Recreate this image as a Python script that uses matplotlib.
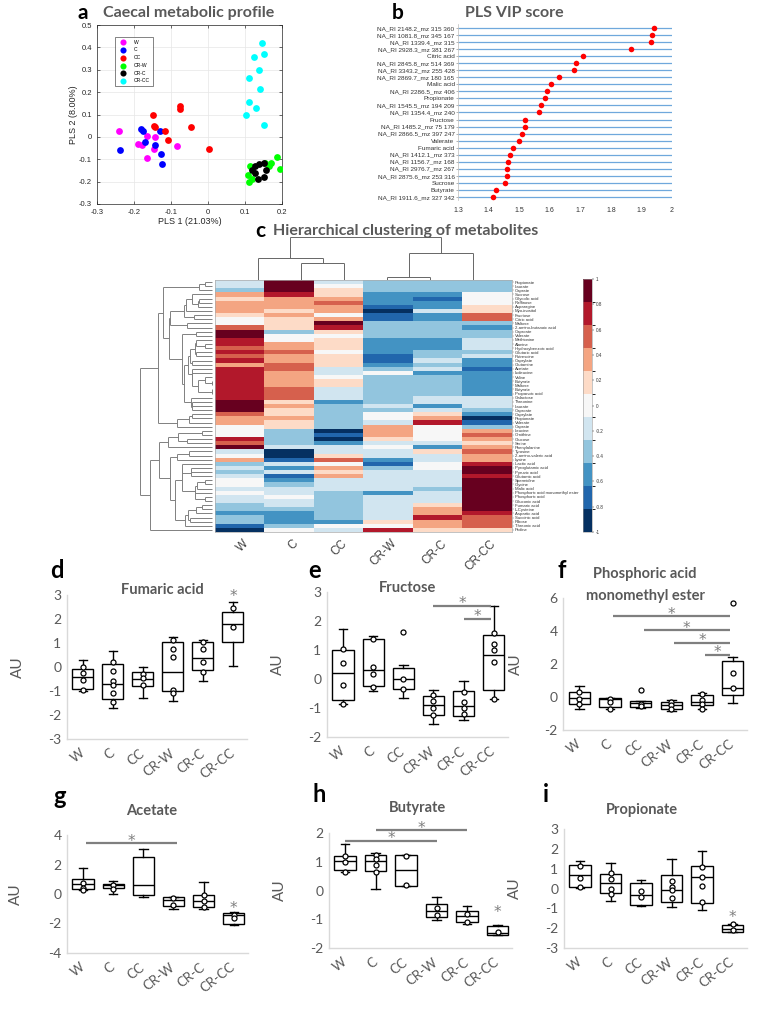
import numpy as np
import matplotlib
matplotlib.use('Agg')
import matplotlib.pyplot as plt
from matplotlib.colors import ListedColormap, BoundaryNorm
from matplotlib.collections import LineCollection
from matplotlib.cm import ScalarMappable
from matplotlib.transforms import ScaledTranslation

plt.rcParams['font.family'] = ['Lato', 'DejaVu Sans']
FW, FH = 770, 1015

# ---------------- data ----------------
groups = ['W', 'C', 'CC', 'CR-W', 'CR-C', 'CR-CC']
group_colors = ['#ff00ff', '#0000ff', '#ff0000', '#00ff00', '#000000', '#00ffff']

# panel a: PLS scores
pls_x = [
    [-0.241, -0.166, -0.143, -0.188, -0.179, -0.166, -0.147, -0.083],
    [-0.239, -0.181, -0.176, -0.170, -0.144, -0.129, -0.127, -0.125],
    [-0.150, -0.147, -0.144, -0.117, -0.108, -0.075, -0.076, -0.047, 0.004],
    [0.186, 0.195, 0.155, 0.170, 0.113, 0.108, 0.118, 0.112, 0.165],
    [0.128, 0.138, 0.150, 0.118, 0.126, 0.150, 0.135, 0.158],
    [0.147, 0.125, 0.150, 0.138, 0.112, 0.140, 0.110, 0.130, 0.102, 0.150],
]
pls_y = [
    [0.025, 0.006, -0.001, -0.030, -0.037, -0.094, -0.055, -0.043],
    [-0.060, 0.033, 0.028, -0.024, -0.036, 0.025, -0.078, -0.119],
    [0.096, 0.050, 0.046, 0.025, -0.014, 0.139, 0.124, 0.045, -0.053],
    [-0.088, -0.144, -0.115, -0.118, -0.128, -0.170, -0.188, -0.200, -0.128],
    [-0.132, -0.122, -0.118, -0.150, -0.160, -0.180, -0.190, -0.150],
    [0.420, 0.355, 0.370, 0.300, 0.265, 0.215, 0.155, 0.130, 0.100, 0.055],
]

# panel b: VIP scores
vip_labels = ['NA_RI 2148.2_mz 315 360', 'NA_RI 1081.8_mz 345 167', 'NA_RI 1339.4_mz 315',
              'NA_RI 2928.3_mz 381 267', 'Citric acid', 'NA_RI 2845.8_mz 514 369',
              'NA_RI 3343.2_mz 255 428', 'NA_RI 2869.7_mz 180 165', 'Malic acid',
              'NA_RI 2286.5_mz 406', 'Propionate', 'NA_RI 1545.5_mz 194 209',
              'NA_RI 1354.4_mz 240', 'Fructose', 'NA_RI 1485.2_mz 75 179',
              'NA_RI 2866.5_mz 397 247', 'Valerate', 'Fumaric acid', 'NA_RI 1412.1_mz 373',
              'NA_RI 1156.7_mz 168', 'NA_RI 2976.7_mz 267', 'NA_RI 2875.6_mz 253 316',
              'Sucrose', 'Butyrate', 'NA_RI 1911.6_mz 327 342']
vip_values = [1.94, 1.935, 1.93, 1.865, 1.71, 1.685, 1.68, 1.63, 1.605, 1.59, 1.585, 1.57,
              1.565, 1.52, 1.52, 1.51, 1.50, 1.48, 1.47, 1.465, 1.46, 1.46, 1.455, 1.425, 1.415]
vip_ticks = [1.3, 1.4, 1.5, 1.6, 1.7, 1.8, 1.9, 2.0]

# panel c: heatmap (colour level -5..5 per metabolite and group)
hm_rows = ['Propionate', 'Laurate', 'Caprate', 'Sucrose', 'Glycolic acid', 'Raffinose',
           'Asparagine', 'Myo-inositol', 'Fructose', 'Citric acid', 'Maltose',
           '2-amino-butanoic acid', 'Caproate', 'Valerate', 'Methionine', 'Alanine',
           'Hydroxybenzoic acid', 'Glutaric acid', 'Putrescine', 'Caprylate', 'Glutamine',
           'Acetate', 'Isoleucine', 'Valine', 'Butyrate', 'Maltose', 'Butyrate',
           'Propanoic acid', 'Galactose', 'Threonine', 'Laurate', 'Caproate', 'Caprylate',
           'Propionate', 'Valerate', 'Caprate', 'Leucine', 'Ornithine', 'Glucose', 'Serine',
           'Phenylalanine', 'Tyrosine', '2-amino-valeric acid', 'Lysine', 'Lactic acid',
           'Pyroglutamic acid', 'Pyruvic acid', 'Glutamic acid', 'Spermidine', 'Glycine',
           'Malic acid', 'Phosphoric acid monomethyl ester', 'Phosphoric acid',
           'Gluconic acid', 'Fumaric acid', 'L-Cysteine', 'Aspartic acid', 'Succinic acid',
           'Ribose', 'Threonic acid', 'Proline']
hm_levels = [
    [-1, 5, -1, -2, -2, -2], [-1, 5, 0, -2, -2, -2], [-2, 5, 1, -2, -2, -2],
    [2, 4, 1, -3, -3, 0], [1, 2, 2, -3, -4, 0], [2, 2, 3, -3, -3, 0],
    [2, 2, 2, -4, -3, 1], [2, 1, 2, -5, -1, 1], [1, 2, 0, -4, -3, 3],
    [0, 1, 2, -4, -3, 3], [0, 1, 5, -2, -2, -2], [3, 1, 4, -2, -2, -3],
    [5, -2, 1, -2, -2, -2], [5, 0, 0, -2, -2, -2], [4, 0, 1, -3, -3, -1],
    [4, 2, 1, -3, -3, -1], [3, 2, 1, -3, -3, -1], [4, 3, 0, -3, -2, -2],
    [3, 2, 1, -4, -2, -1], [4, 2, 1, -4, -1, -3], [2, 3, 1, -3, -2, -3],
    [4, 3, -1, -2, -1, -4], [4, 2, -1, 0, -3, -3], [4, 2, 0, -2, -2, -3],
    [4, 2, 1, -2, -2, -3], [4, 2, 1, -2, -2, -3], [4, 3, -1, -2, -2, -3],
    [4, 3, -1, -2, -2, -3], [4, 3, -1, -2, -1, -1], [5, 1, -3, -2, -1, -1],
    [5, 2, -2, -1, -3, -1], [5, 1, -2, -2, -1, -2], [3, 1, -2, 0, 1, -3],
    [2, 2, -2, 0, 2, -5], [2, 1, -2, -1, 4, -4], [0, 1, -2, 2, 0, -2],
    [0, -2, -5, 2, 0, 2], [0, -2, -4, 2, 0, 3], [4, -2, -5, 1, 0, 2],
    [3, -2, -3, -1, -1, 1], [5, -1, -1, 0, -3, 2], [-1, -5, -1, -1, 1, 3],
    [0, -5, 1, -1, -1, 2], [2, -4, 3, -3, -1, 2], [-2, -1, 0, -4, 0, 4],
    [-1, -3, 2, -2, 0, 5], [-2, -1, 1, -1, -1, 5], [-1, -4, 2, -1, -1, 4],
    [0, -3, -1, -1, -1, 5], [0, -2, -1, -1, -1, 5], [-1, -1, -1, -1, -2, 5],
    [0, -1, -2, -3, -1, 5], [-1, 0, -2, -1, -1, 5], [-1, -1, -2, -1, -1, 5],
    [-2, -1, -2, -1, 1, 5], [-2, -2, -2, -1, 2, 5], [-3, -3, -2, -1, 2, 4],
    [-2, -3, -2, -1, 4, 3], [-2, -3, -3, 1, 2, 3], [-4, -2, 0, 0, 2, 3],
    [-5, 0, -1, 4, 1, 1],
]
# column dendrogram merges: (cluster a, cluster b, height)
col_merges = [(1, 2, 0.395), (3, 4, 0.08), (0, 6, 0.512), (7, 5, 0.628), (8, 9, 1.0)]
hm_colors = ['#053061', '#2166ac', '#4393c3', '#92c5de', '#d1e5f0', '#f7f7f7',
             '#fddbc7', '#f4a582', '#d6604d', '#b2182b', '#67001f']
cbar_ticks = [-1, -0.8, -0.6, -0.4, -0.2, 0, 0.2, 0.4, 0.6, 0.8, 1]

# box panels: (q1, median, q3, whisker low, whisker high)
fum_stats = [(-0.92, -0.42, -0.09, -0.99, 0.28), (-1.34, -0.71, 0.13, -1.71, 0.65),
             (-0.78, -0.49, -0.19, -1.29, 0.0), (-1.02, -0.19, 1.03, -1.43, 1.27),
             (-0.12, 0.37, 1.03, -0.6, 1.13), (1.06, 1.78, 2.31, 0.05, 2.72)]
fum_points = [[0.0, -0.25, -0.53, -0.97], [0.2, -0.15, -0.6, -0.77, -1.1, -1.45],
              [-0.3, -0.45, -0.75], [1.13, 0.75, 0.4, -0.95, -1.1],
              [1.05, 0.75, 0.2, -0.2], [2.45, 1.65]]
fum_out = [[], [], [], [], [], []]

fru_stats = [(-0.71, 0.21, 1.01, -0.87, 1.74), (-0.24, 0.30, 1.39, -0.43, 1.50),
             (-0.33, -0.01, 0.39, -0.66, 0.49), (-1.25, -0.90, -0.60, -1.54, -0.39),
             (-1.28, -0.93, -0.41, -1.43, -0.07), (-0.37, 0.84, 1.53, -0.70, 2.52)]
fru_points = [[1.05, 0.55, -0.2, -0.85], [1.39, 0.41, 0.18, -0.28], [-0.01, -0.35],
              [-0.55, -0.75, -1.0, -1.25], [-0.45, -0.8, -1.0, -1.2],
              [1.6, 1.2, 1.0, 0.6, -0.7]]
fru_out = [[], [], [1.62], [], [], []]

pme_stats = [(-0.43, -0.05, 0.31, -0.73, 0.68), (-0.59, -0.15, -0.05, -0.73, -0.05),
             (-0.59, -0.39, -0.23, -0.69, -0.23), (-0.73, -0.49, -0.29, -0.85, -0.19),
             (-0.49, -0.29, 0.11, -0.73, 0.27), (0.11, 0.56, 2.17, -0.39, 2.43)]
pme_points = [[0.3, -0.1, -0.45], [-0.1, -0.3, -0.7], [-0.4, -0.55], [-0.3, -0.5, -0.7],
              [0.2, -0.2, -0.45, -0.7], [1.46, 0.52]]
pme_out = [[], [], [0.42], [], [], [5.7]]

ace_stats = [(0.35, 0.67, 1.0, 0.28, 1.75), (0.40, 0.58, 0.67, 0.01, 0.91),
             (-0.05, 0.62, 2.49, -0.17, 3.05), (-0.84, -0.44, -0.21, -1.02, -0.17),
             (-0.91, -0.46, -0.05, -1.0, 0.78), (-2.01, -1.45, -1.29, -2.13, -1.25)]
ace_points = [[0.75, 0.4, 0.3], [0.6, 0.35], [], [-0.3, -0.75], [-0.1, -0.5, -0.9],
              [-1.4, -1.65]]
ace_out = [[], [], [], [], [], []]

but_stats = [(0.70, 1.04, 1.21, 0.63, 1.62), (0.67, 1.04, 1.25, 0.05, 1.30),
             (0.17, 0.72, 1.22, 0.17, 1.22), (-0.92, -0.70, -0.47, -1.01, -0.23),
             (-1.11, -0.90, -0.70, -1.15, -0.55), (-1.54, -1.48, -1.22, -1.54, -1.19)]
but_points = [[1.2, 1.0, 0.65], [1.25, 1.1, 0.9, 0.65], [1.2, 0.2], [-0.6, -0.85],
              [-0.8, -1.1], [-1.45]]
but_out = [[], [], [], [], [], []]

pro_stats = [(0.08, 0.70, 1.17, 0.03, 1.37), (-0.23, 0.28, 0.73, -0.65, 1.29),
             (-0.82, -0.34, 0.28, -0.90, 0.41), (-0.68, -0.06, 0.66, -0.93, 1.49),
             (-0.73, 0.58, 1.15, -1.07, 1.91), (-2.19, -2.04, -1.86, -2.19, -1.80)]
pro_points = [[1.15, 0.55, 0.1], [0.8, 0.5, 0.0, -0.3], [-0.15, -0.45],
              [0.4, 0.1, -0.1, -0.5], [1.1, 0.6, 0.15, -0.7], [-1.8, -2.1]]
pro_out = [[], [], [], [], [], []]

# significance bars (from group, to group, height) and single stars (group, height)
fru_bars = [(4, 5.9, 2.52), (5, 5.9, 2.08)]
pme_bars = [(2.1, 5.9, 4.89), (3.1, 5.9, 4.04), (4.1, 5.9, 3.30), (5.1, 5.9, 2.57)]
ace_bars = [(1.1, 4.1, 3.44)]
but_bars = [(1.0, 4.0, 1.73), (2.0, 5.0, 2.09)]
fum_stars = [(6, 2.85)]
ace_stars = [(6, -1.15)]
but_stars = [(6, -0.85)]
pro_stars = [(6, -1.55)]

# ---------------- helpers ----------------
fig = plt.figure(figsize=(FW / 100, FH / 100), dpi=100)


def px(l, t, r, b):
    return [l / FW, 1 - b / FH, (r - l) / FW, (b - t) / FH]


def ftext(x, y, s, **kw):
    fig.text(x / FW, 1 - y / FH, s, **kw)


GREY = '#595959'
SANS = ['Liberation Sans', 'DejaVu Sans']

# ---------------- panel a ----------------
axa = fig.add_axes(px(97, 25, 282, 204))
for k, g in enumerate(groups):
    axa.scatter(pls_x[k], pls_y[k], s=24, color=group_colors[k], label=g, zorder=3,
                linewidths=0)
axa.set_xlim(-0.3, 0.2)
axa.set_ylim(-0.3, 0.5)
axa.set_xticks(np.arange(-0.3, 0.21, 0.1))
axa.set_xticklabels(['-0.3', '-0.2', '-0.1', '0', '0.1', '0.2'])
axa.set_yticks(np.arange(-0.3, 0.51, 0.1))
axa.set_yticklabels(['-0.3', '-0.2', '-0.1', '0', '0.1', '0.2', '0.3', '0.4', '0.5'])
axa.grid(True, color='#e6e6e6', lw=0.5)
axa.set_axisbelow(True)
axa.tick_params(labelsize=5.5, labelcolor='#262626', direction='in', length=2, width=0.4,
                top=True, right=True)
for t in axa.get_xticklabels() + axa.get_yticklabels():
    t.set_family(SANS)
for s in axa.spines.values():
    s.set_color('#262626')
    s.set_linewidth(0.5)
axa.set_xlabel('PLS 1 (21.03%)', fontsize=6.5, family=SANS, color='#262626', labelpad=1)
axa.set_ylabel('PLS 2 (8.00%)', fontsize=6.5, family=SANS, color='#262626', labelpad=1)
leg = axa.legend(loc='upper left', bbox_to_anchor=(0.095, 0.935),
                 prop={'family': SANS, 'size': 3.6}, markerscale=0.9, frameon=True,
                 fancybox=False, edgecolor='#262626', labelspacing=0.55, borderpad=0.6,
                 handletextpad=1.2, borderaxespad=0)
leg.get_frame().set_linewidth(0.5)
ftext(77, 13, 'a', fontsize=15, fontweight='bold', va='center', ha='left')
ftext(103, 13, 'Caecal metabolic profile', fontsize=11.5, fontweight='bold', color=GREY,
      va='center', ha='left')

# ---------------- panel b ----------------
axb = fig.add_axes(px(458, 24.5, 672, 200.5))
ny = len(vip_labels)
axb.hlines(np.arange(ny), vip_ticks[0], vip_ticks[-1], color='#6fa8dc', lw=0.9, zorder=1)
axb.scatter(vip_values, np.arange(ny), s=16, color='#ff0000', zorder=3, linewidths=0)
axb.set_xlim(vip_ticks[0], vip_ticks[-1])
axb.set_ylim(ny - 0.5, -0.5)
axb.set_yticks(np.arange(ny))
axb.set_yticklabels(vip_labels, fontsize=4.6, family=SANS, color='#333333')
axb.set_xticks(vip_ticks)
axb.set_xticklabels(['1.3', '1.4', '1.5', '1.6', '1.7', '1.8', '1.9', '2'], fontsize=5,
                    family=SANS, color='#333333')
axb.tick_params(axis='y', length=1.5, width=0.4, pad=1, color='#777777')
axb.tick_params(axis='x', length=0, pad=5)
for k in ['top', 'right', 'bottom']:
    axb.spines[k].set_visible(False)
axb.spines['left'].set_color('#bbbbbb')
axb.spines['left'].set_linewidth(0.5)
ftext(392, 13, 'b', fontsize=15, fontweight='bold', va='center', ha='left')
ftext(465, 13, 'PLS VIP score', fontsize=11.5, fontweight='bold', color=GREY,
      va='center', ha='left')

# ---------------- panel c ----------------
levels = np.array(hm_levels, dtype=float)
hm_vals = levels * 2.0 / 11.0
nrow, ncol = hm_vals.shape
cmap = ListedColormap(hm_colors)
norm = BoundaryNorm(np.linspace(-1, 1, 12), cmap.N)

axh = fig.add_axes(px(215, 280, 512, 532))
axh.imshow(hm_vals, cmap=cmap, norm=norm, aspect='auto', interpolation='nearest',
           extent=(-0.5, ncol - 0.5, nrow - 0.5, -0.5))
axh.set_xticks(np.arange(ncol))
axh.set_xticklabels(groups, rotation=45, ha='right', va='center', rotation_mode='anchor',
                    fontsize=8.5, color='#404040', family=SANS)
axh.tick_params(axis='x', length=0, pad=7)
for lab in axh.get_xticklabels():
    lab.set_transform(lab.get_transform() + ScaledTranslation(0.07, 0, fig.dpi_scale_trans))
axh.yaxis.tick_right()
axh.set_yticks(np.arange(nrow))
axh.set_yticklabels(hm_rows, fontsize=3.1, family=SANS, color='#333333')
axh.tick_params(axis='y', length=1.5, width=0.3, pad=0.5, color='#666666')
for s in axh.spines.values():
    s.set_color('#aaaaaa')
    s.set_linewidth(0.5)

# row dendrogram: adjacency-constrained average linkage on the displayed order
D = np.sqrt(((levels[:, None, :] - levels[None, :, :]) ** 2).sum(-1))
clusters = [[i] for i in range(nrow)]
pos = [float(i) for i in range(nrow)]
hts = [0.0] * nrow
segs = []
while len(clusters) > 1:
    dists = [D[np.ix_(clusters[j], clusters[j + 1])].mean() for j in range(len(clusters) - 1)]
    j = int(np.argmin(dists))
    h = max(dists[j], hts[j], hts[j + 1])
    segs += [[(hts[j], pos[j]), (h, pos[j])], [(hts[j + 1], pos[j + 1]), (h, pos[j + 1])],
             [(h, pos[j]), (h, pos[j + 1])]]
    clusters[j] = clusters[j] + clusters[j + 1]
    del clusters[j + 1]
    pos[j] = (pos[j] + pos[j + 1]) / 2
    del pos[j + 1]
    hts[j] = h
    del hts[j + 1]
root_h = hts[0]
axr = fig.add_axes(px(140, 280, 215, 532))
axr.add_collection(LineCollection(segs, colors='#808080', linewidths=0.7))
axr.set_xlim(root_h * 1.0, -root_h * 0.04)
axr.set_ylim(nrow - 0.5, -0.5)
axr.axis('off')

# column dendrogram
cpos = {i: i + 0.5 for i in range(ncol)}
cht = {i: 0.0 for i in range(ncol)}
csegs = []
for k, (a, b, h) in enumerate(col_merges):
    csegs += [[(cpos[a], cht[a]), (cpos[a], h)], [(cpos[b], cht[b]), (cpos[b], h)],
              [(cpos[a], h), (cpos[b], h)]]
    cpos[ncol + k] = (cpos[a] + cpos[b]) / 2
    cht[ncol + k] = h
axc = fig.add_axes(px(236.5, 236.5, 494.5, 280))
axc.add_collection(LineCollection(csegs, colors='#666666', linewidths=0.7))
axc.set_xlim(0, ncol)
axc.set_ylim(0, 1.0)
axc.axis('off')

axcb = fig.add_axes(px(583, 279, 592, 532))
cb = fig.colorbar(ScalarMappable(norm=norm, cmap=cmap), cax=axcb, ticks=cbar_ticks)
cb.ax.set_yticklabels(['-1', '-0.8', '-0.6', '-0.4', '-0.2', '0', '0.2', '0.4', '0.6',
                       '0.8', '1'], fontsize=3.3, family=SANS, color='#333333')
cb.ax.tick_params(length=1.5, width=0.3, pad=1)
cb.outline.set_linewidth(0.4)
cb.outline.set_edgecolor('#999999')
ftext(255, 231, 'c', fontsize=15, fontweight='bold', va='center', ha='left')
ftext(273, 231, 'Hierarchical clustering of metabolites', fontsize=11.5, fontweight='bold',
      color=GREY, va='center', ha='left')


# ---------------- box panels ----------------
def star(ax, x, y):
    ax.annotate('*', (x, y), xytext=(0, 1.5), textcoords='offset points', ha='center',
                va='center', fontsize=11, color='#7f7f7f', family=['DejaVu Sans'],
                zorder=6, annotation_clip=False)


def box_panel(rect, ylim, yticks, stats, points, outs, bars, stars, letter, letter_xy,
              title_lines, title_xy, au_x):
    ax = fig.add_axes(px(*rect))
    bstats = [dict(q1=s[0], med=s[1], q3=s[2], whislo=s[3], whishi=s[4], fliers=[])
              for s in stats]
    ax.bxp(bstats, positions=np.arange(1, 7), widths=0.7, capwidths=0.28,
           showfliers=False, patch_artist=True,
           boxprops=dict(facecolor='white', edgecolor='black', linewidth=1.0),
           medianprops=dict(color='black', linewidth=1.0),
           whiskerprops=dict(color='black', linewidth=1.0),
           capprops=dict(color='black', linewidth=1.0))
    for k in range(6):
        pts = list(points[k]) + list(outs[k])
        if pts:
            ax.scatter(np.full(len(pts), k + 1.0), pts, s=13, facecolor='white',
                       edgecolor='black', linewidths=0.9, zorder=4, clip_on=False)
    for x1, x2, y in bars:
        ax.plot([x1, x2], [y, y], color='#7f7f7f', lw=1.6, solid_capstyle='butt', zorder=5,
                clip_on=False)
        star(ax, (x1 + x2) / 2, y)
    for x, y in stars:
        star(ax, x, y)
    ax.set_xlim(0.47, 6.47)
    ax.set_ylim(*ylim)
    ax.set_yticks(yticks)
    ax.set_yticklabels([str(v) for v in yticks], fontsize=10, color=GREY)
    ax.set_xticks(np.arange(1, 7))
    ax.set_xticklabels(groups, rotation=38, ha='right', va='center', rotation_mode='anchor',
                       fontsize=9.5, color=GREY)
    ax.tick_params(axis='both', length=0)
    ax.tick_params(axis='x', pad=9)
    ax.tick_params(axis='y', pad=4)
    for k in ['top', 'right']:
        ax.spines[k].set_visible(False)
    for k in ['left', 'bottom']:
        ax.spines[k].set_color('#d9d9d9')
        ax.spines[k].set_linewidth(1.0)
    ax.set_ylabel('AU', fontsize=11, color=GREY)
    ax.yaxis.set_label_coords((au_x - rect[0]) / (rect[2] - rect[0]), 0.5)
    ftext(letter_xy[0], letter_xy[1], letter, fontsize=17, fontweight='bold',
          va='center', ha='left')
    for i, line in enumerate(title_lines):
        ftext(title_xy[0], title_xy[1] + i * 22, line, fontsize=10.5, fontweight='bold',
              color=GREY, va='center', ha='center')
    return ax


box_panel((67, 595, 247, 739), (-3, 3), [3, 2, 1, 0, -1, -2, -3], fum_stats, fum_points,
          fum_out, [], fum_stars, 'd', (50, 571), ['Fumaric acid'], (162, 590), 25)
box_panel((327, 592, 508, 737), (-2, 3), [3, 2, 1, 0, -1, -2], fru_stats, fru_points,
          fru_out, fru_bars, [], 'e', (308, 571), ['Fructose'], (408, 588), 285)
box_panel((563, 598, 747, 730), (-2, 6), [6, 4, 2, 0, -2], pme_stats, pme_points,
          pme_out, pme_bars, [], 'f', (557, 570), ['Phosphoric acid', 'monomethyl ester'],
          (645, 574), 523)
box_panel((67, 835, 248, 953), (-4, 4), [4, 2, 0, -2, -4], ace_stats, ace_points,
          ace_out, ace_bars, ace_stars, 'g', (53, 797), ['Acetate'], (152, 811), 23)
box_panel((329, 833, 512, 948), (-2, 2), [2, 1, 0, -1, -2], but_stats, but_points,
          but_out, but_bars, but_stars, 'h', (313, 795), ['Butyrate'], (418, 808), 287)
box_panel((564, 829, 747, 948), (-3, 3), [3, 2, 1, 0, -1, -2, -3], pro_stats, pro_points,
          pro_out, [], pro_stars, 'i', (543, 795), ['Propionate'], (642, 810), 522)

fig.savefig('out.png', dpi=100)
